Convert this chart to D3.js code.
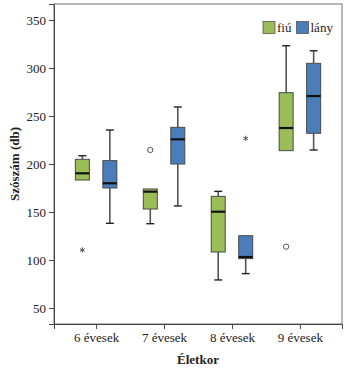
<!DOCTYPE html>
<html>
<head>
<meta charset="utf-8">
<script src="https://cdn.jsdelivr.net/npm/d3@7"></script>
<style>
  body { margin: 0; background: #fff; }
  svg text { font-family: "Liberation Serif", "DejaVu Serif", serif; }
</style>
</head>
<body>
<svg id="chart" width="350" height="374"></svg>
<script>
'use strict';

// age groups on the x axis and the two genders
const ageGroups = ['6 évesek', '7 évesek', '8 évesek', '9 évesek'];
const genders = ['fiú', 'lány'];
const palette = { 'fiú': '#9bbd58', 'lány': '#4a7ebb' };
const yTicks = [50, 100, 150, 200, 250, 300, 350];

// box summaries per age group: [lower whisker, q1, median, q3, upper whisker]
const fiuBoxes = [
  [183.3, 183.3, 190.3, 204.9, 208.6],
  [137.8, 153.1, 171.2, 174.0, 174.0],
  [79.2, 108.3, 150.3, 166.3, 171.5],
  [213.9, 213.9, 237.5, 274.3, 323.2]
];
const lanyBoxes = [
  [138.2, 175.0, 179.9, 203.5, 235.4],
  [156.3, 200.0, 225.7, 238.2, 259.4],
  [85.8, 101.4, 103.1, 125.3, 125.3],
  [214.6, 232.0, 270.8, 304.9, 318.0]
];

// outliers: 'o' = circle, 'x' = extreme (star)
const fiuOutliers = [
  { group: '6 évesek', value: 110.4, kind: 'x' },
  { group: '7 évesek', value: 214.6, kind: 'o' },
  { group: '9 évesek', value: 113.9, kind: 'o' }
];
const lanyOutliers = [
  { group: '8 évesek', value: 226.7, kind: 'x' }
];

const svg = d3.select('#chart');
const margin = { top: 4, right: 8, bottom: 50, left: 54 };
const width = 350 - margin.left - margin.right;
const height = 374 - margin.top - margin.bottom;

const x = d3.scalePoint().domain(ageGroups).range([0, width]).padding(0.62);
const xInner = d3.scalePoint().domain(genders).range([-13.75, 13.75]);
const y = d3.scaleLinear().domain([33.3, 366.7]).range([height, 0]);
const boxW = 14;

const g = svg.append('g').attr('transform', `translate(${margin.left},${margin.top})`);

// frame
g.append('rect')
  .attr('width', width)
  .attr('height', height)
  .attr('fill', 'none')
  .attr('stroke', '#8a8a8a')
  .attr('stroke-width', 1.2);

// axes
const yAxis = g.append('g')
  .call(d3.axisLeft(y).tickValues(yTicks).tickSize(5).tickPadding(3));
yAxis.select('.domain').attr('stroke', '#444');
yAxis.selectAll('.tick line').attr('stroke', '#444');
yAxis.selectAll('text').attr('font-size', 13).attr('fill', '#222');

const xAxis = g.append('g')
  .attr('transform', `translate(0,${height})`)
  .call(d3.axisBottom(x).tickSize(5).tickPadding(4));
xAxis.select('.domain').attr('stroke', '#444');
xAxis.selectAll('.tick line').attr('stroke', '#444');
xAxis.selectAll('text').attr('font-size', 13).attr('fill', '#222');

// axis titles
svg.append('text')
  .attr('transform', `translate(19,${margin.top + height / 2}) rotate(-90)`)
  .attr('text-anchor', 'middle')
  .attr('font-size', 13)
  .attr('font-weight', 'bold')
  .attr('fill', '#222')
  .text('Szószám (db)');

svg.append('text')
  .attr('x', margin.left + width / 2)
  .attr('y', 364)
  .attr('text-anchor', 'middle')
  .attr('font-size', 13)
  .attr('font-weight', 'bold')
  .attr('fill', '#222')
  .text('Életkor');

// boxes
const series = [
  { key: 'fiú', boxes: fiuBoxes, outliers: fiuOutliers },
  { key: 'lány', boxes: lanyBoxes, outliers: lanyOutliers }
];

series.forEach(s => {
  const sg = g.append('g');
  const rows = s.boxes.map((b, i) => ({ group: ageGroups[i], low: b[0], q1: b[1], med: b[2], q3: b[3], high: b[4] }));
  const cx = d => x(d.group) + xInner(s.key);

  // whiskers
  sg.selectAll('.whisker')
    .data(rows)
    .join('g')
    .each(function(d) {
      const w = d3.select(this);
      if (d.high > d.q3) {
        w.append('line').attr('x1', cx(d)).attr('x2', cx(d)).attr('y1', y(d.q3)).attr('y2', y(d.high))
          .attr('stroke', '#555').attr('stroke-width', 1.6);
        w.append('line').attr('x1', cx(d) - 4).attr('x2', cx(d) + 4).attr('y1', y(d.high)).attr('y2', y(d.high))
          .attr('stroke', '#222').attr('stroke-width', 1.4);
      }
      if (d.low < d.q1) {
        w.append('line').attr('x1', cx(d)).attr('x2', cx(d)).attr('y1', y(d.q1)).attr('y2', y(d.low))
          .attr('stroke', '#555').attr('stroke-width', 1.6);
        w.append('line').attr('x1', cx(d) - 4).attr('x2', cx(d) + 4).attr('y1', y(d.low)).attr('y2', y(d.low))
          .attr('stroke', '#222').attr('stroke-width', 1.4);
      }
    });

  sg.selectAll('rect.box')
    .data(rows)
    .join('rect')
    .attr('class', 'box')
    .attr('x', d => cx(d) - boxW / 2)
    .attr('width', boxW)
    .attr('y', d => y(d.q3))
    .attr('height', d => y(d.q1) - y(d.q3))
    .attr('fill', palette[s.key])
    .attr('stroke', '#4a4a4a')
    .attr('stroke-width', 1);

  sg.selectAll('line.median')
    .data(rows)
    .join('line')
    .attr('class', 'median')
    .attr('x1', d => cx(d) - boxW / 2)
    .attr('x2', d => cx(d) + boxW / 2)
    .attr('y1', d => y(d.med))
    .attr('y2', d => y(d.med))
    .attr('stroke', '#111')
    .attr('stroke-width', 2.2);

  // outliers
  sg.selectAll('path.outlier')
    .data(s.outliers)
    .join('path')
    .attr('class', 'outlier')
    .attr('transform', d => `translate(${x(d.group) + xInner(s.key)},${y(d.value)})`)
    .attr('d', d => d.kind === 'o' ? d3.symbol(d3.symbolCircle, 22)() : d3.symbol(d3.symbolAsterisk, 20)())
    .attr('fill', 'none')
    .attr('stroke', '#555')
    .attr('stroke-width', 1);
});

// legend
const legend = g.append('g').attr('transform', `translate(${209},${17.5})`);
const legendX = [0, 33.5];
genders.forEach((k, i) => {
  legend.append('rect')
    .attr('x', legendX[i])
    .attr('y', 0)
    .attr('width', 12)
    .attr('height', 12)
    .attr('fill', palette[k])
    .attr('stroke', '#555')
    .attr('stroke-width', 0.8);
  legend.append('text')
    .attr('x', legendX[i] + 14)
    .attr('y', 10.5)
    .attr('font-size', 13)
    .attr('fill', '#222')
    .text(k);
});
</script>
</body>
</html>
